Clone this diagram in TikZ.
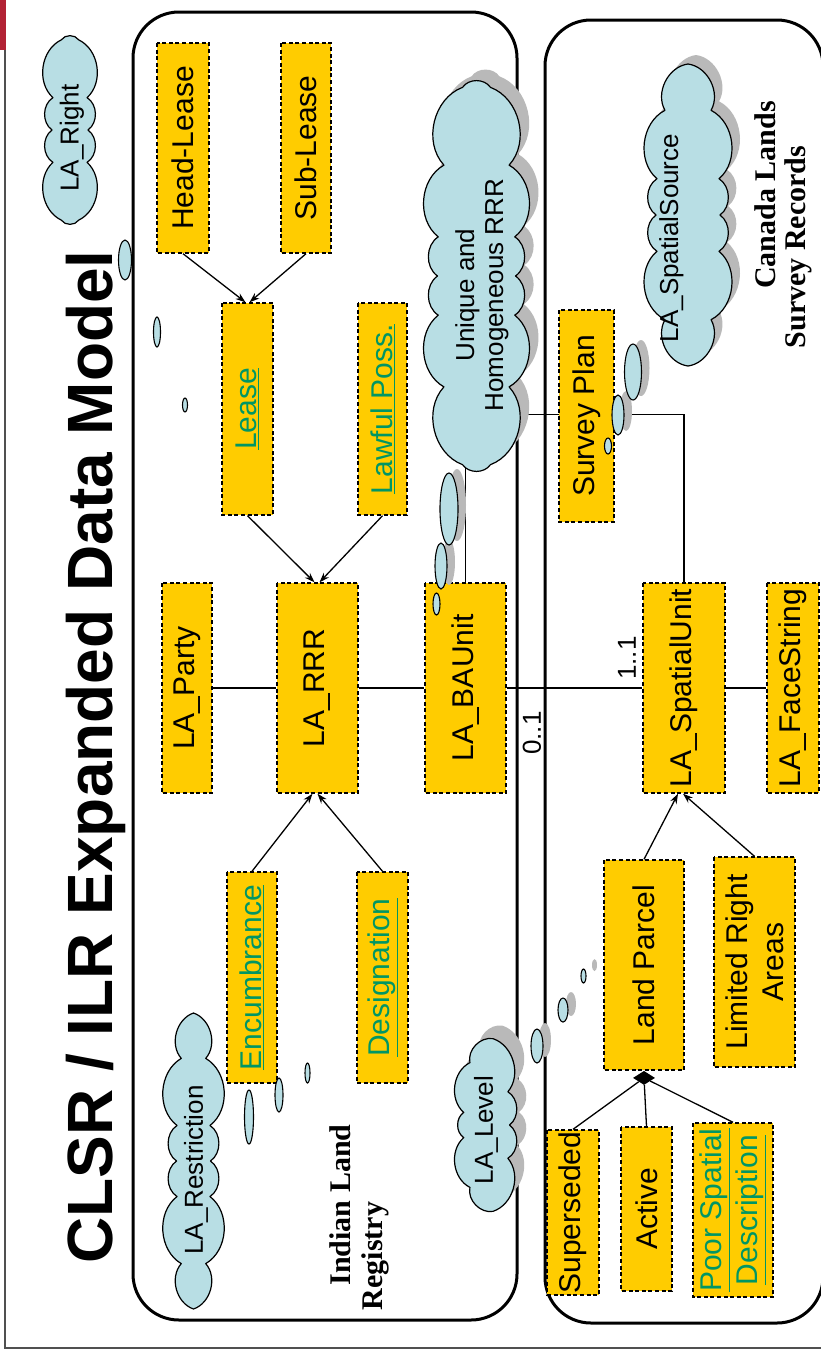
\documentclass[tikz,border=0pt]{standalone}
\usepackage{fontspec}
\setmainfont{Liberation Serif}
\setsansfont{Liberation Sans}
\usetikzlibrary{shapes.geometric,arrows.meta,calc,backgrounds}
\definecolor{boxfill}{RGB}{255,204,0}
\definecolor{cloudfill}{RGB}{184,222,228}
\definecolor{linkgreen}{RGB}{0,150,100}
\definecolor{shadegray}{RGB}{185,185,185}
\definecolor{framegray}{RGB}{80,80,80}
\definecolor{markred}{RGB}{178,34,52}
\newcommand{\lnk}[1]{\textcolor{linkgreen}{\underline{#1}}}
% puffy outline around an upright ellipse: centre x, centre y, half width, half length, puffs
\newcommand{\puffcloud}[5]{({#1+#3},{#2}) foreach \k in {1,...,#5} {
  to[bend left=56] ({#1+#3*cos(360*\k/#5-18.6*sin(720*\k/#5))},{#2+#4*sin(360*\k/#5-18.6*sin(720*\k/#5))}) } -- cycle}
\begin{document}
\begin{tikzpicture}[x=1pt,y=-1pt,
  classbox/.style={draw=black, fill=boxfill, line width=1.4pt,
    dash pattern=on 4pt off 2.6pt, rotate=90, inner sep=0pt, align=center,
    font=\sffamily\fontsize{30}{36}\selectfont},
  cloudbody/.style={draw=black, fill=cloudfill, line width=1.2pt, line join=round},
  cloudshade/.style={fill=shadegray},
  cloudtext/.style={rotate=90, align=center, font=\sffamily\fontsize{26}{29}\selectfont},
  bubble/.style={draw=black, fill=cloudfill, line width=1.1pt},
  bubbleshadow/.style={fill=shadegray},
  region/.style={draw=black, line width=3pt, rounded corners=46pt},
  link/.style={draw=black, line width=1.3pt},
  isa/.style={link, -{Stealth[length=10pt,width=7pt]}},
  mult/.style={rotate=90, font=\sffamily\fontsize{26}{28}\selectfont},
  caption/.style={rotate=90, anchor=base, font=\bfseries\fontsize{30}{32}\selectfont},
]
\useasboundingbox (0,0) rectangle (821,1360);

% page frame and corner mark
\draw[framegray, line width=1.4pt] (5,0) -- (5,1348) -- (830,1348);
\fill[markred] (0,0) rectangle (5.5,50);

% title
\node[rotate=90, anchor=base, font=\sffamily\bfseries\fontsize{64}{70}\selectfont]
  (title) at (112,757) {CLSR / ILR Expanded Data Model};

% the two registries
\draw[region] (133,12) rectangle (517,1320);
\draw[region] (545,20) rectangle (823,1323);

% classes
\node[classbox, minimum width=210pt, minimum height=52pt] (hl) at (183,148) {Head-Lease};
\node[classbox, minimum width=210pt, minimum height=50pt] (sl) at (306,148) {Sub-Lease};
\node[classbox, minimum width=212pt, minimum height=51pt] (lease) at (247.5,409) {\lnk{Lease}};
\node[classbox, minimum width=212pt, minimum height=49pt] (lawful) at (382.5,409) {\lnk{Lawful Poss.}};
\node[classbox, minimum width=210pt, minimum height=50pt] (party) at (187,688) {LA\_Party};
\node[classbox, minimum width=210pt, minimum height=81pt] (rrr) at (317.5,688) {LA\_RRR};
\node[classbox, minimum width=210pt, minimum height=81pt] (bau) at (465.5,688) {LA\_BAUnit};
\node[classbox, minimum width=211pt, minimum height=50pt] (enc) at (252,977.5) {\lnk{Encumbrance}};
\node[classbox, minimum width=211pt, minimum height=51pt] (desig) at (382.5,977.5) {\lnk{Designation}};
\node[classbox, minimum width=212pt, minimum height=55pt] (plan) at (586.5,416) {Survey Plan};
\node[classbox, minimum width=210pt, minimum height=82pt] (su) at (684,688) {LA\_SpatialUnit};
\node[classbox, minimum width=210pt, minimum height=52pt] (fs) at (793,688) {LA\_FaceString};
\node[classbox, minimum width=210pt, minimum height=80pt] (parcel) at (644,965) {Land Parcel};
\node[classbox, minimum width=210pt, minimum height=81pt] (lra) at (754.5,962) {Limited Right\\Areas};
\node[classbox, minimum width=165pt, minimum height=52pt] (sup) at (573,1212.5) {Superseded};
\node[classbox, minimum width=164pt, minimum height=51pt] (act) at (646.5,1209) {Active};
\node[classbox, minimum width=174pt, minimum height=80pt] (poor) at (733,1210) {\lnk{Poor Spatial}\\\lnk{Description}};

% associations, kept behind the classes and clouds
\begin{pgfonlayer}{background}
  \draw[link] (bau.east) -- ++(0,-168) -| (su.east);
  \draw[link] (party) -- (rrr);
  \draw[link] (rrr) -- (bau);
  \draw[link] (bau) -- (su);
  \draw[link] (su) -- (fs);
\end{pgfonlayer}

% generalisations
\draw[isa] (hl.west) -- ($(lease.east)+(-2,0)$);
\draw[isa] (sl.west) -- ($(lease.east)+(2,0)$);
\draw[isa] (lease.west) -- ($(rrr.east)+(-3,0)$);
\draw[isa] (lawful.west) -- ($(rrr.east)+(2,0)$);
\draw[isa] (enc.east) -- ($(rrr.west)+(-5,0)$);
\draw[isa] (desig.east) -- ($(rrr.west)+(0,0)$);
\draw[isa] (parcel.east) -- ($(su.west)+(-6,0)$);
\draw[isa] (lra.east) -- ($(su.west)+(-1,0)$);

% aggregation of parcel states
\node[diamond, fill=black, minimum width=22pt, minimum height=14pt, inner sep=0pt,
  anchor=north] (agg) at (parcel.west) {};
\draw[link] (agg) -- (sup.east);
\draw[link] (agg) -- (act.east);
\draw[link] (agg) -- (poor.east);

% multiplicities
\node[mult] (m01) at (532,733) {0..1};
\node[mult] (m11) at (627,658) {1..1};

% region captions
\node[caption] (ilr1) at (350,1205) {Indian Land};
\node[caption] (ilr2) at (382,1256) {Registry};
\node[caption] (cl1) at (775,195) {Canada Lands};
\node[caption] (cl2) at (805,247) {Survey Records};

% LADM notes drawn as clouds
\path[cloudbody] \puffcloud{70}{130}{18}{103}{10};
\node[cloudtext] (tright) at (72,138) {LA\_Right};

\path[cloudshade] \puffcloud{485.5}{265}{39}{202}{14};
\path[cloudbody] \puffcloud{476.5}{276}{39}{202}{14};
\node[cloudtext] (tuq) at (482,295) {Unique and\\Homogeneous RRR};

\path[cloudshade] \puffcloud{696}{206}{32}{151}{12};
\path[cloudbody] \puffcloud{688}{215}{32}{151}{12};
\node[cloudtext] (tss) at (671.5,238) {LA\_SpatialSource};

\path[cloudbody] \puffcloud{193.5}{1161}{17}{148}{12};
\node[cloudtext] (tres) at (196,1170) {LA\_Restriction};

\path[cloudshade] \puffcloud{496}{1112}{23}{90}{9};
\path[cloudbody] \puffcloud{486.5}{1125}{23}{90}{9};
\node[cloudtext] (tlv) at (486,1130) {LA\_Level};

% thought-bubble trails
\path[bubble] (125,260) ellipse [x radius=6.5pt, y radius=20pt];
\path[bubble] (157,332) ellipse [x radius=3.5pt, y radius=15pt];
\path[bubble] (185,405) ellipse [x radius=2.5pt, y radius=7pt];

\path[bubbleshadow] (457,505) ellipse [x radius=9pt, y radius=36pt];
\path[bubbleshadow] (449,562) ellipse [x radius=6pt, y radius=23pt];
\path[bubble] (449,509) ellipse [x radius=9pt, y radius=36pt];
\path[bubble] (441,566) ellipse [x radius=6pt, y radius=23pt];
\path[bubble] (436.5,604) ellipse [x radius=3.5pt, y radius=11pt];

\path[bubbleshadow] (641,368) ellipse [x radius=8.5pt, y radius=28pt];
\path[bubbleshadow] (626,411) ellipse [x radius=6pt, y radius=20pt];
\path[bubble] (633,372) ellipse [x radius=8.5pt, y radius=28pt];
\path[bubble] (618,415) ellipse [x radius=6pt, y radius=20pt];
\path[bubble] (608,446) ellipse [x radius=3.5pt, y radius=8pt];

\path[bubble] (249,1117) ellipse [x radius=4.5pt, y radius=27pt];
\path[bubble] (279,1095) ellipse [x radius=4pt, y radius=17pt];
\path[bubble] (307.5,1073) ellipse [x radius=2.5pt, y radius=10pt];

\path[bubbleshadow] (545,1040) ellipse [x radius=6pt, y radius=17pt];
\path[bubbleshadow] (571,1004) ellipse [x radius=5pt, y radius=12pt];
\path[bubbleshadow] (594.5,965) ellipse [x radius=2.5pt, y radius=6pt];
\path[bubble] (537,1046) ellipse [x radius=6pt, y radius=17pt];
\path[bubble] (563,1010) ellipse [x radius=5pt, y radius=12pt];
\path[bubble] (583.5,976) ellipse [x radius=2.5pt, y radius=7pt];
\end{tikzpicture}
\end{document}
